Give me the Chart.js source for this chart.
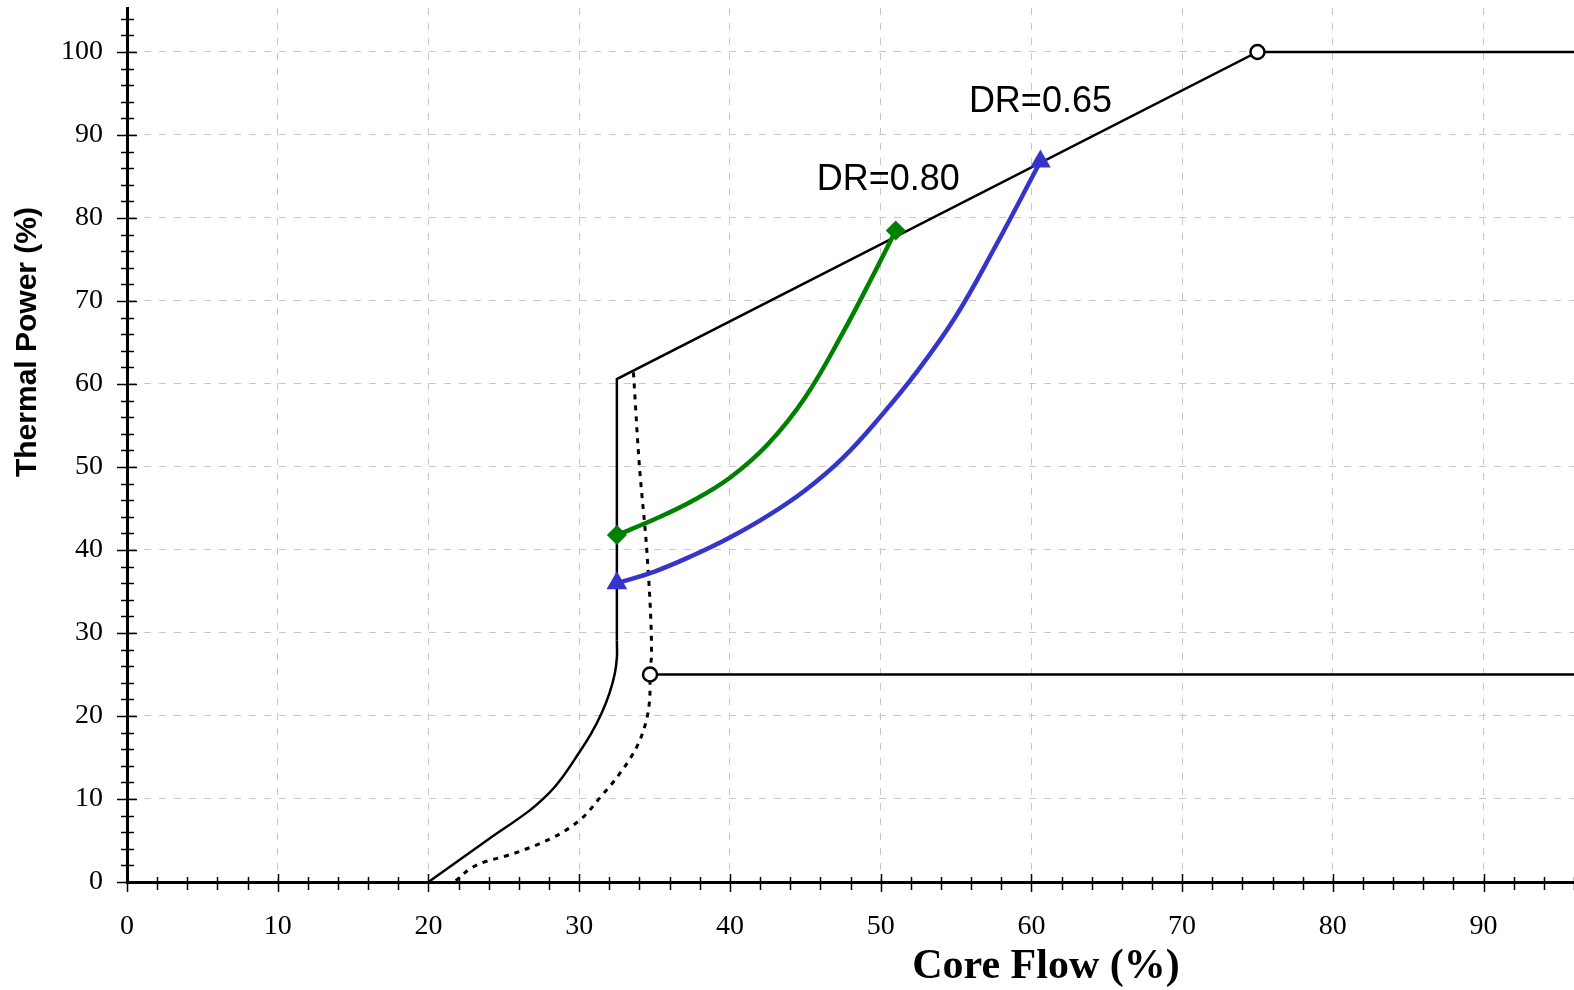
<!DOCTYPE html>
<html>
<head>
<meta charset="utf-8">
<script src="https://cdn.jsdelivr.net/npm/chart.js@4.4.1/dist/chart.umd.min.js"></script>
<style>
body { margin: 0; background: #fff; }
#wrap { width: 1574px; height: 990px; }
</style>
</head>
<body>
<div id="wrap"><canvas id="chart" width="1574" height="990"></canvas></div>
<script>
// axis ticks
const xTicks = [0, 10, 20, 30, 40, 50, 60, 70, 80, 90];
const yTicks = [0, 10, 20, 30, 40, 50, 60, 70, 80, 90, 100];

// [core flow %, thermal power %]
const lowerBoundary = [[20, 0], [24.1, 5.3], [26.7, 8.6], [28.0, 10.7], [28.8, 12.4], [30.0, 15.6],
  [30.8, 17.9], [31.5, 20.4], [32.0, 22.7], [32.35, 25.0], [32.5, 27.0], [32.5, 29.1]];
const upperBoundary = [[32.5, 29.1], [32.5, 60.6], [75, 100], [96, 100]];
const line25 = [[34.7, 25], [96, 25]];
const dottedCurve = [[33.6, 61.4], [34.0, 50.0], [34.5, 39.6], [34.8, 27.5], [34.7, 25.0], [34.7, 23.4],
  [34.5, 19.8], [33.8, 16.2], [32.5, 12.6], [31.4, 10.2], [30.0, 7.4], [28.2, 5.3], [25.6, 3.4],
  [23.4, 2.2], [21.7, 0]];
const dr080 = [[32.5, 41.8], [35, 43.7], [37.5, 45.9], [40, 48.7], [42.5, 52.7], [45, 58.4],
  [47.5, 66.2], [49.5, 73.1], [51.0, 78.5]];
const dr065 = [[32.5, 36.0], [35, 37.4], [37.5, 39.3], [40, 41.5], [42.5, 44.1], [45, 47.2],
  [47.5, 51.1], [50, 56.1], [52.5, 61.7], [55, 68.2], [57.5, 76.2], [60.6, 86.8]];
const openPoints = [[75, 100], [34.7, 25]];

const labelTexts = ['DR=0.80', 'DR=0.65'];
const labelAt = [[50.5, 84.6], [60.6, 94.0]];

const pts = arr => arr.map(p => ({ x: p[0], y: p[1] }));
const endsOnly = (arr, r) => arr.map((p, i) => (i === 0 || i === arr.length - 1) ? r : 0);

const decor = {
  id: 'decor',
  afterDraw(chart) {
    const ctx = chart.ctx;
    const xs = chart.scales.x, ys = chart.scales.y;
    const area = chart.chartArea;
    ctx.save();
    ctx.strokeStyle = '#000';
    ctx.lineWidth = 1.5;
    ctx.beginPath();
    for (let v = 0; v <= 96; v += 2) {
      const px = Math.round(xs.getPixelForValue(v)) + 0.5;
      const major = v % 10 === 0;
      ctx.moveTo(px, area.bottom - (major ? 8 : 5));
      ctx.lineTo(px, area.bottom + (major ? 10 : 8));
    }
    for (let v = 0; v <= 104; v += 2) {
      const py = Math.round(ys.getPixelForValue(v)) + 0.5;
      const major = v % 10 === 0;
      ctx.moveTo(area.left - (major ? 10 : 6), py);
      ctx.lineTo(area.left + (major ? 10 : 7), py);
    }
    ctx.stroke();

    // annotations
    ctx.fillStyle = '#000';
    ctx.font = '36px "Liberation Sans", Arial, sans-serif';
    ctx.textAlign = 'center';
    ctx.textBaseline = 'middle';
    labelTexts.forEach((t, i) => {
      ctx.fillText(t, xs.getPixelForValue(labelAt[i][0]), ys.getPixelForValue(labelAt[i][1]));
    });

    // axis titles
    ctx.font = 'bold 42px "Liberation Serif", "Times New Roman", serif';
    ctx.textBaseline = 'alphabetic';
    ctx.fillText('Core Flow (%)', 1046, 978);

    ctx.translate(28, 342);
    ctx.rotate(-Math.PI / 2);
    ctx.font = 'bold 30px "Liberation Sans", Arial, sans-serif';
    ctx.textBaseline = 'middle';
    ctx.fillText('Thermal Power (%)', 0, 0);
    ctx.restore();
  }
};

const tickFont = { family: '"Liberation Serif", "Times New Roman", serif', size: 28 };
const noPad = s => { s.paddingTop = 0; s.paddingBottom = 0; s.paddingLeft = 0; s.paddingRight = 0; };

new Chart(document.getElementById('chart'), {
  type: 'scatter',
  data: {
    datasets: [
      {
        data: pts(openPoints), showLine: false,
        pointStyle: 'circle', pointRadius: 7, pointBackgroundColor: '#fff',
        pointBorderColor: '#000', pointBorderWidth: 2.5
      },
      {
        data: pts(dr080), showLine: true, borderColor: '#008000', borderWidth: 4.5,
        tension: 0.4, pointStyle: 'rectRot', pointRadius: endsOnly(dr080, 10),
        pointBackgroundColor: '#008000', pointBorderWidth: 0
      },
      {
        data: pts(dr065), showLine: true, borderColor: '#3535cc', borderWidth: 4.5,
        tension: 0.4, pointStyle: 'triangle', pointRadius: endsOnly(dr065, 12),
        pointBackgroundColor: '#3535cc', pointBorderWidth: 0
      },
      {
        data: pts(dottedCurve), showLine: true, borderColor: '#000', borderWidth: 3,
        borderDash: [5, 6], indexAxis: 'y', cubicInterpolationMode: 'monotone', pointRadius: 0
      },
      {
        data: pts(lowerBoundary), showLine: true, borderColor: '#000', borderWidth: 2.5,
        tension: 0.4, pointRadius: 0
      },
      {
        data: pts(upperBoundary), showLine: true, borderColor: '#000', borderWidth: 2.5,
        tension: 0, pointRadius: 0
      },
      {
        data: pts(line25), showLine: true, borderColor: '#000', borderWidth: 2.5,
        tension: 0, pointRadius: 0
      }
    ]
  },
  options: {
    responsive: false,
    animation: false,
    layout: { autoPadding: false, padding: { top: 8, right: 0, bottom: 0, left: 0 } },
    plugins: { legend: { display: false }, tooltip: { enabled: false } },
    scales: {
      x: {
        type: 'linear', min: 0, max: 96,
        afterBuildTicks: s => { s.ticks = xTicks.map(v => ({ value: v })); },
        afterFit: s => { s.height = 108; noPad(s); },
        ticks: { font: tickFont, color: '#000', padding: 28, maxRotation: 0 },
        grid: { color: '#c8c8c8', lineWidth: 1, drawTicks: false },
        border: { display: true, color: '#000', width: 3, dash: [7, 8] }
      },
      y: {
        type: 'linear', min: 0, max: 105.3,
        afterBuildTicks: s => { s.ticks = yTicks.map(v => ({ value: v })); },
        afterFit: s => { s.width = 127; noPad(s); },
        ticks: { font: tickFont, color: '#000', padding: 24 },
        grid: { color: '#c8c8c8', lineWidth: 1, drawTicks: false },
        border: { display: true, color: '#000', width: 3, dash: [7, 8] }
      }
    }
  },
  plugins: [decor]
});
</script>
</body>
</html>
